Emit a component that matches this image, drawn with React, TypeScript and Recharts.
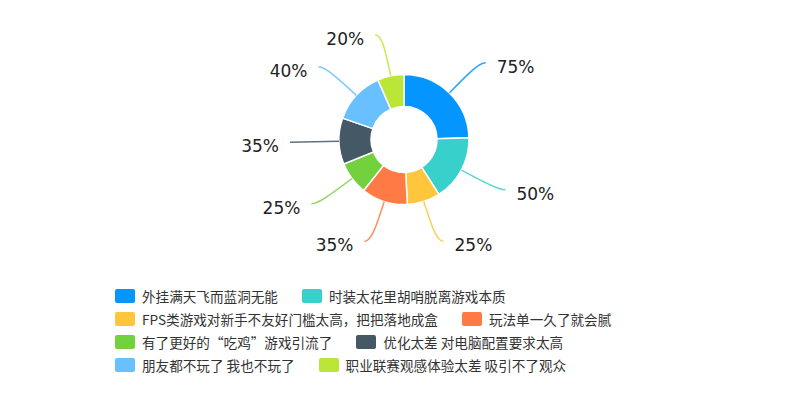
import { PieChart, Pie, Cell, Legend } from "recharts";

const reasons = [
  "外挂满天飞而蓝洞无能",
  "时装太花里胡哨脱离游戏本质",
  "FPS类游戏对新手不友好门槛太高，把把落地成盒",
  "玩法单一久了就会腻",
  "有了更好的“吃鸡”游戏引流了",
  "优化太差 对电脑配置要求太高",
  "朋友都不玩了 我也不玩了",
  "职业联赛观感体验太差 吸引不了观众",
];

const shares = [75, 50, 25, 35, 25, 35, 40, 20];

const COLORS = [
  "#0595ff",
  "#38d0ca",
  "#ffc53d",
  "#ff7a45",
  "#73d13d",
  "#455866",
  "#69c0ff",
  "#bae637",
];

const data = reasons.map((name, i) => ({ name, value: shares[i] }));

const RADIAN = Math.PI / 180;

function renderLabel(props: any) {
  const { cx, cy, midAngle, outerRadius, value, index } = props;
  const color = COLORS[index % COLORS.length];
  const cos = Math.cos(-midAngle * RADIAN);
  const sin = Math.sin(-midAngle * RADIAN);
  const x1 = cx + outerRadius * cos;
  const y1 = cy + outerRadius * sin;
  const r2 = outerRadius + 42;
  const x2 = cx + r2 * cos;
  const y2 = cy + r2 * sin;
  const right = cos >= 0;
  const x3 = x2 + (right ? 7 : -7);
  const y3 = y2;
  const c1x = x1 + (x2 - x1) * 0.6;
  const c1y = y1 + (y2 - y1) * 0.6;
  return (
    <g>
      <path
        d={`M${x1},${y1} C${c1x},${c1y} ${x2},${y2} ${x3},${y3}`}
        stroke={color}
        strokeOpacity={0.85}
        strokeWidth={1.5}
        fill="none"
      />
      <text
        x={x3 + (right ? 11 : -11)}
        y={y3 + 4}
        textAnchor={right ? "start" : "end"}
        dominantBaseline="central"
        fill="#222"
        fontSize={17}
        fontFamily="DejaVu Sans, Verdana, sans-serif"
      >
        {`${value}%`}
      </text>
    </g>
  );
}

function LegendRows({ payload }: any) {
  const items = [...(payload || [])].sort(
    (a: any, b: any) => reasons.indexOf(a.value) - reasons.indexOf(b.value)
  );
  const rows: any[][] = [];
  for (let i = 0; i < items.length; i += 2) rows.push(items.slice(i, i + 2));
  return (
    <div style={{ paddingLeft: 115 }}>
      {rows.map((row, r) => (
        <div key={r} style={{ display: "flex", alignItems: "center", height: 23 }}>
          {row.map((entry: any, i: number) => (
            <div key={i} style={{ display: "flex", alignItems: "center", marginRight: 24 }}>
              <span
                style={{
                  display: "inline-block",
                  width: 20,
                  height: 14,
                  borderRadius: 2,
                  background: entry.color,
                  marginRight: 7,
                }}
              />
              <span
                style={{
                  fontFamily: "Noto Sans CJK SC, sans-serif",
                  fontSize: 13.6,
                  color: "#333",
                  whiteSpace: "nowrap",
                }}
              >
                {entry.value}
              </span>
            </div>
          ))}
        </div>
      ))}
    </div>
  );
}

export default function App() {
  return (
    <div style={{ position: "absolute", left: 0, top: 0, width: 807, height: 404, background: "#fff" }}>
      <PieChart width={807} height={404} margin={{ top: 0, right: 0, bottom: 0, left: 0 }}>
        <Pie
          data={data}
          dataKey="value"
          nameKey="name"
          cx={404}
          cy={139.5}
          innerRadius={33}
          outerRadius={65}
          startAngle={90}
          endAngle={-270}
          stroke="#fff"
          strokeWidth={1.5}
          label={renderLabel}
          labelLine={false}
          isAnimationActive={false}
        >
          {data.map((entry, index) => (
            <Cell key={`cell-${index}`} fill={COLORS[index % COLORS.length]} />
          ))}
        </Pie>
        <Legend
          content={<LegendRows />}
          wrapperStyle={{ position: "absolute", left: 0, top: 284, width: 807 }}
        />
      </PieChart>
    </div>
  );
}
